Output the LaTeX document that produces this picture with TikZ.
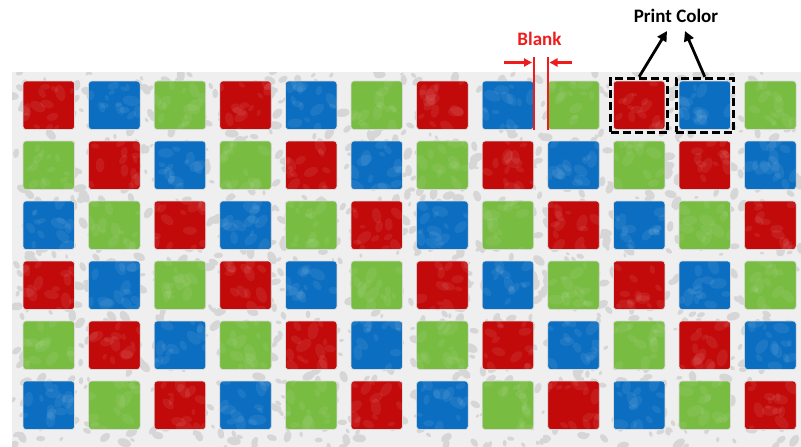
\documentclass[tikz,border=0pt]{standalone}
\usepackage{fontspec}
\setmainfont{Carlito}
\usetikzlibrary{arrows.meta,fit}
\definecolor{sqR}{HTML}{C20A0A}
\definecolor{sqB}{HTML}{0B6EC0}
\definecolor{sqG}{HTML}{78BC42}
\definecolor{bgGray}{HTML}{EFEFEF}
\definecolor{blobGray}{HTML}{D6D6D6}
\definecolor{markRed}{HTML}{EE1C1C}
\tikzset{
  sq/.style={draw=white!85!black, line width=0.7pt, rounded corners=3pt, inner sep=0pt,
             minimum width=51.5pt, minimum height=48.5pt},
  dbox/.style={draw=black, line width=2.8pt, dash pattern=on 8pt off 4pt, inner sep=2.5pt},
  parr/.style={draw=black, line width=2.8pt, -{Triangle[length=10pt,width=10pt]}},
  rarr/.style={draw=markRed, line width=2.4pt, -{Triangle[length=8pt,width=8pt]}},
  bline/.style={draw=markRed, line width=2pt},
  lbl/.style={font=\bfseries\fontsize{19}{20}\selectfont, inner sep=0pt}
}
\begin{document}
\begin{tikzpicture}[x=1pt,y=-1pt]
\useasboundingbox (0,0) rectangle (801,447);
% mottled background
\begin{scope}
\clip (12,72) rectangle (801,447);
\fill[bgGray] (12,72) rectangle (801,447);
\pgfmathsetseed{11}
\foreach \i in {1,...,1400}{
  \pgfmathsetmacro\bx{12+rnd*789}
  \pgfmathsetmacro\by{72+rnd*375}
  \pgfmathsetmacro\rr{2+rnd*5}
  \pgfmathsetmacro\ra{rnd*180}
  \fill[blobGray] (\bx,\by) ellipse[x radius=\rr, y radius=0.6*\rr, rotate=\ra];
}
\end{scope}
% squares
\foreach \r in {1,...,6}{
  \foreach \c in {1,...,12}{
    \pgfmathtruncatemacro\k{mod(\c-\r+6,3)}
    \ifcase\k \def\col{sqR}\or \def\col{sqB}\or \def\col{sqG}\fi
    \pgfmathsetmacro\cx{48.75+(\c-1)*65.6}
    \pgfmathsetmacro\cy{105.25+(\r-1)*60}
    \node[sq, fill=\col] (s-\r-\c) at (\cx,\cy) {};
    \begin{scope}
      \clip[rounded corners=3pt] (s-\r-\c.south west) rectangle (s-\r-\c.north east);
      \foreach \j in {1,...,14}{
        \pgfmathsetmacro\bx{\cx-25+rnd*50}
        \pgfmathsetmacro\by{\cy-24+rnd*48}
        \pgfmathsetmacro\rr{3+rnd*6}
        \pgfmathsetmacro\ra{rnd*180}
        \fill[white, opacity=0.07] (\bx,\by) ellipse[x radius=\rr, y radius=0.6*\rr, rotate=\ra];
      }
    \end{scope}
  }
}
% blank marker
\node[lbl, text=markRed] (blank) at (539.5,39) {Blank};
\coordinate (b1t) at (533.7,57);
\coordinate (b1b) at (533.7,129.5);
\coordinate (b2t) at (547.8,57);
\coordinate (b2b) at (547.8,129.5);
\draw[bline] (b1t) -- (b1b);
\draw[bline] (b2t) -- (b2b);
\coordinate (la) at (504,62.5);
\coordinate (lb) at (532,62.5);
\coordinate (ra) at (572,62.5);
\coordinate (rb) at (549.5,62.5);
\draw[rarr] (la) -- (lb);
\draw[rarr] (ra) -- (rb);
% print color
\node[dbox, fit=(s-1-10)] (p1) {};
\node[dbox, fit=(s-1-11)] (p2) {};
\node[lbl, text=black] (pc) at (676,16) {Print Color};
\coordinate (pa1) at (667,31);
\coordinate (pa2) at (685,31);
\draw[parr] (p1.north) -- (pa1);
\draw[parr] (p2.north) -- (pa2);
\end{tikzpicture}
\end{document}
